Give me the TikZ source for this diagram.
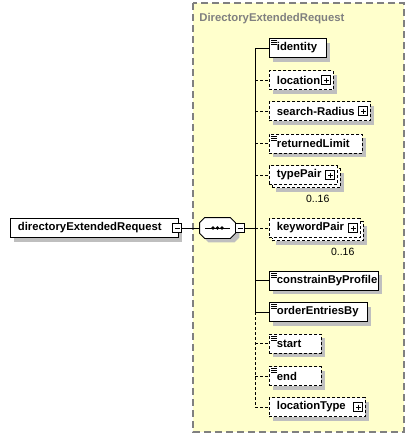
\documentclass[tikz,border=0pt]{standalone}
\usepackage{fontspec}
\setmainfont{Liberation Sans}
\usetikzlibrary{shadows}
\definecolor{type-fill}{HTML}{FFFFCC}
\definecolor{type-line}{HTML}{808080}
\colorlet{shade}{black!25}
\hyphenpenalty=10000
\exhyphenpenalty=10000
\tikzset{
  box/.style={draw, fill=white, anchor=west, minimum height=19pt,
    inner xsep=7.5pt, inner ysep=0pt, text width=#1, align=left,
    font=\bfseries\fontsize{11.3}{13}\selectfont},
  shaded/.style={drop shadow={shadow xshift=4pt, shadow yshift=-4pt, fill=shade, opacity=1}},
  elem/.style={box=#1, shaded},
  opt/.style={dash pattern=on 3pt off 2pt},
  multi/.style={box=#1, opt,
    drop shadow={shadow xshift=7pt, shadow yshift=-7pt, fill=shade, opacity=1},
    copy shadow={shadow xshift=3pt, shadow yshift=-3pt, fill=white, draw, dash pattern=on 3pt off 2pt}},
  occ/.style={anchor=north east, inner sep=0pt, font=\fontsize{10.5}{12}\selectfont},
  minusbtn/.style={draw, fill=white, minimum size=9pt, inner sep=0pt,
    path picture={\draw (path picture bounding box.center) +(-2.5,0) -- +(2.5,0);}},
  plusbtn/.style={minusbtn,
    path picture={\draw (path picture bounding box.center) +(-2.5,0) -- +(2.5,0) +(0,-2.5) -- +(0,2.5);}},
  seqbox/.style={minimum width=35pt, minimum height=20pt, inner sep=0pt},
  container/.style={draw=type-line, fill=type-fill, line width=1.2pt, dash pattern=on 7pt off 4pt},
  title/.style={anchor=west, inner sep=0pt, text=type-line,
    font=\bfseries\fontsize{11.3}{13}\selectfont},
  icon/.style={line width=0.8pt},
}

\begin{document}
\begin{tikzpicture}[x=1pt, y=-1pt, line width=0.8pt]
\useasboundingbox (0,0) rectangle (414,439);

% complex type
\draw[container] (193,3) rectangle (404,432);
\node (type-title) [title] at (199,19) {DirectoryExtendedRequest};

% root element and sequence
\node (root) [elem=153pt] at (10,228) {directoryExtendedRequest};
\node (root-btn) [minusbtn] at ([xshift=-1.5pt]root.east) {};
\node (seq) [seqbox] at (217.5,228) {};
\filldraw[fill=white, shaded]
  ([shift={(5,0)}]seq.north west) -- ([shift={(-5,0)}]seq.north east)
  -- ([shift={(0,5)}]seq.north east) -- ([shift={(0,-5)}]seq.south east)
  -- ([shift={(-5,0)}]seq.south east) -- ([shift={(5,0)}]seq.south west)
  -- ([shift={(0,-5)}]seq.south west) -- ([shift={(0,5)}]seq.north west) -- cycle;
\draw ([xshift=-12.5pt]seq.center) -- ([xshift=12.5pt]seq.center);
\foreach \dx in {-4.5,0,4.5}
  \fill ([xshift=\dx pt]seq.center) circle[radius=1.8pt];
\node (seq-btn) [minusbtn, anchor=west] at (seq.east) {};
\draw (root-btn) -- (seq);

% children
\node (identity)           [elem=42pt]      at (269,48)    {identity};
\node (location)           [elem=49pt, opt] at (269,80)    {location};
\node (searchRadius)       [elem=86pt, opt] at (269,111)   {search-Radius};
\node (returnedLimit)      [elem=78pt, opt] at (269,143.5) {returnedLimit};
\node (typePair)           [multi=53pt]     at (269,175)   {typePair};
\node (keywordPair)        [multi=76pt]     at (269,228)   {keywordPair};
\node (constrainByProfile) [elem=94pt]      at (269,280.5) {constrainByProfile};
\node (orderEntriesBy)     [elem=83pt]      at (269,312)   {orderEntriesBy};
\node (start)              [elem=37pt, opt] at (269,343.5) {start};
\node (end)                [elem=37pt, opt] at (269,376)   {end};
\node (locationType)       [elem=81pt, opt] at (269,407)   {locationType};

\node (typePair-occ)    [occ] at ([shift={(-8,10)}]typePair.south east)    {0..16};
\node (keywordPair-occ) [occ] at ([shift={(-6,10)}]keywordPair.south east) {0..16};

\foreach \n in {location,searchRadius,typePair,keywordPair,locationType}
  \node (\n-btn) [plusbtn] at ([xshift=-7.5pt]\n.east) {};

\foreach \n in {identity,returnedLimit,constrainByProfile,orderEntriesBy,start,end}
  \draw[icon] ([shift={(2,2.5)}]\n.north west) -- +(6,0) +(0,2) -- +(6,2) +(0,4) -- +(6,4);

% connectors
\coordinate (spine) at (255,0);
\draw (seq-btn.east) -- (seq-btn.east -| spine);
\draw (identity.west -| spine) -- (orderEntriesBy.west -| spine);
\draw[opt] (orderEntriesBy.west -| spine) -- (locationType.west -| spine);
\foreach \n in {identity,constrainByProfile,orderEntriesBy}
  \draw (\n.west -| spine) -- (\n.west);
\foreach \n in {location,searchRadius,returnedLimit,typePair,keywordPair,start,end,locationType}
  \draw[opt] (\n.west -| spine) -- (\n.west);

\end{tikzpicture}
\end{document}
